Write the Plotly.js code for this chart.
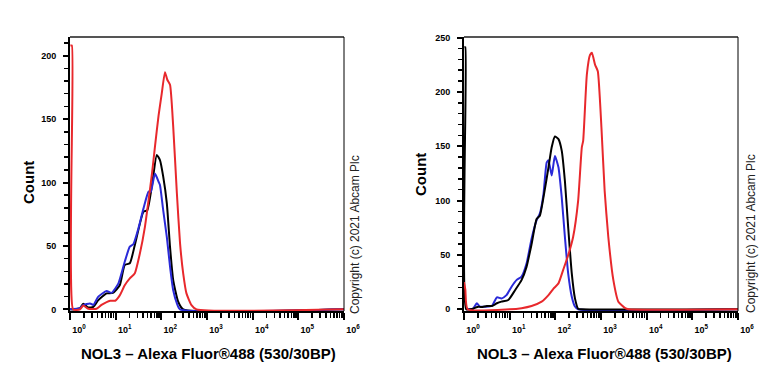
<!DOCTYPE html>
<html>
<head>
<meta charset="utf-8">
<script src="https://cdn.plot.ly/plotly-3.0.1.min.js"></script>
<style>html,body{margin:0;padding:0;background:#fff;}#chart{width:768px;height:384px;}</style>
</head>
<body>
<div id="chart"></div>
<script>
// ---- Data (fluorescence intensity, count) ----
// Left panel
var leftBlackX = [1.0, 1.26, 1.66, 1.95, 2.51, 3.24, 4.17, 6.31, 8.71, 12.3, 15.8, 20.4, 26.3, 40.7, 49.0, 63.1, 79.4, 93.3, 110, 132, 155, 182, 234, 302, 1e6];
var leftBlackY = [0, 0, 1, 4.4, 1.5, 2, 7.3, 12.6, 13, 19, 35, 36.3, 50.7, 77, 78, 99, 121.7, 117.7, 104.6, 83.6, 49, 23, 6, 0, 0];

var leftBlueX = [1.0, 1.66, 1.95, 2.75, 3.24, 4.17, 6.31, 8.13, 11.5, 15.8, 20.4, 24.5, 31.6, 40.7, 52.5, 58.9, 72.4, 87.1, 93.3, 110, 132, 155, 182, 219, 257, 1e6];
var leftBlueY = [0, 1, 3.4, 4.7, 3.5, 10, 14.4, 13, 20.5, 37.5, 49.4, 51.5, 64, 79.6, 92.8, 92.8, 107, 100.6, 98, 78, 57, 33.6, 15, 4.7, 0, 0];

var leftRedX = [1.02, 1.10, 1.17, 1.66, 1.95, 2.51, 3.80, 4.90, 7.59, 9.77, 12.3, 15.8, 20.4, 26.3, 33.9, 43.7, 52.5, 63.1, 72.4, 87.1, 102, 120, 135, 155, 182, 219, 257, 302, 355, 457, 589, 1e6];
var leftRedY = [208, 208, 0, 0, 3, 0.5, 0.5, 3.5, 6.8, 6.8, 11, 19, 24.4, 28.5, 44, 65, 86, 108.5, 128, 153, 170, 187, 181, 177, 144, 91.5, 52, 28, 12.6, 3.4, 0, 0];

// Right panel
var rightBlackX = [1.02, 1.07, 1.12, 1.58, 2.04, 2.40, 3.16, 4.07, 5.25, 6.61, 9.33, 13.2, 18.2, 23.4, 30.2, 38.9, 45.7, 55.0, 70.8, 83.2, 97.7, 117, 138, 162, 191, 229, 269, 316, 380, 1e6];
var rightBlackY = [241, 241, 0, 0.5, 2.4, 2, 3, 3, 5.5, 7, 8.5, 17.7, 26.8, 39, 60, 83, 86, 103, 130.6, 149, 159, 156.6, 146, 118, 75.6, 33, 10, 0.5, 0, 0];

var rightBlueX = [1.12, 1.58, 1.91, 2.24, 2.88, 4.07, 5.25, 6.61, 8.51, 11.0, 14.1, 18.2, 23.4, 30.2, 38.9, 45.7, 55.0, 64.6, 70.8, 83.2, 97.7, 117, 138, 162, 191, 229, 269, 316, 1e6];
var rightBlueY = [0, 0.5, 5.5, 2.4, 2.4, 3, 11, 10, 13, 20.7, 26.8, 30, 42, 65, 82, 88, 106, 135, 137, 123, 141, 130.6, 103, 66.5, 33, 11.5, 2.5, 0, 0];

var rightRedX = [1.0, 1.07, 1.2, 10, 18.2, 30.2, 50.1, 70.8, 91.2, 117, 148, 191, 245, 316, 380, 407, 490, 575, 631, 741, 851, 1023, 1202, 1445, 1862, 2399, 3388, 3981, 1e6];
var rightRedY = [25, 18, 0, 0, 1, 3, 7, 13, 19, 23.8, 36, 49.7, 66.5, 100, 149, 155, 216, 234, 236, 225, 219, 167, 109, 66.5, 27, 7, 1, 0, 0];

// Tick labels
var majorTickVals = [1, 10, 100, 1000, 10000, 100000, 1000000];
var majorTickText = ['10<sup>0</sup>', '10<sup>1</sup>', '10<sup>2</sup>', '10<sup>3</sup>', '10<sup>4</sup>', '10<sup>5</sup>', '10<sup>6</sup>'];
var xTitle = '<b>NOL3 \u2013 Alexa Fluor\u00AE488 (530/30BP)</b>';
var yTitle = '<b>Count</b>';
var copyright = 'Copyright (c) 2021 Abcam Plc';

// minor tick positions (2..9 per decade)
var minorTickVals = [];
for (var d = 0; d < 6; d++) {
  for (var m = 2; m <= 9; m++) minorTickVals.push(m * Math.pow(10, d));
}

var FONT = 'Liberation Sans, Arial, Helvetica, sans-serif';
var RED = '#e8282c', BLUE = '#2a2ad8', BLACK = '#000000';

function tr(x, y, color, xa, ya) {
  return {x: x, y: y, type: 'scatter', mode: 'lines', xaxis: xa, yaxis: ya,
    line: {color: color, width: 2, shape: 'spline', smoothing: 0.5}, hoverinfo: 'skip'};
}

var data = [
  tr(leftBlackX, leftBlackY, BLACK, 'x', 'y'),
  tr(leftBlueX, leftBlueY, BLUE, 'x', 'y'),
  tr(leftRedX, leftRedY, RED, 'x', 'y'),
  tr(rightBlueX, rightBlueY, BLUE, 'x2', 'y2'),
  tr(rightBlackX, rightBlackY, BLACK, 'x2', 'y2'),
  tr(rightRedX, rightRedY, RED, 'x2', 'y2')
];

function xaxis(domain, anchor) {
  return {
    domain: domain, anchor: anchor, type: 'log', range: [0, 6],
    tickmode: 'array', tickvals: majorTickVals, ticktext: majorTickText,
    ticks: 'outside', ticklen: 7, tickwidth: 2, tickcolor: '#000',
    showline: true, linecolor: '#000', linewidth: 2,
    showgrid: false, zeroline: false,
    tickfont: {family: FONT, size: 9, color: '#000', weight: 'bold'},
    ticklabelshift: 9, ticklabelstandoff: 2,
    minor: {tickmode: 'array', tickvals: minorTickVals, ticks: 'outside', ticklen: 5, tickwidth: 1.5, tickcolor: '#000', showgrid: false},
    fixedrange: true
  };
}
function yaxis(domain, anchor, range) {
  return {
    domain: domain, anchor: anchor, range: range,
    tickmode: 'linear', tick0: 0, dtick: 50,
    ticks: 'outside', ticklen: 5, tickwidth: 2, tickcolor: '#000',
    showline: true, linecolor: '#000', linewidth: 2,
    showgrid: false, zeroline: false,
    tickfont: {family: FONT, size: 9, color: '#000', weight: 'bold'},
    ticklabelstandoff: 5,
    minor: {dtick: 10, tick0: 0, ticks: 'outside', ticklen: 4, tickwidth: 1.5, tickcolor: '#000', showgrid: false},
    fixedrange: true
  };
}

var yDom = [(384 - 311) / 384, (384 - 37) / 384];
var x1Dom = [70 / 768, 344 / 768];
var x2Dom = [464 / 768, 738 / 768];

function frame(xr, yr) {
  return [
    {type: 'line', xref: xr + ' domain', yref: yr + ' domain', x0: 0, x1: 1, y0: 1, y1: 1, line: {color: '#555', width: 2}},
    {type: 'line', xref: xr + ' domain', yref: yr + ' domain', x0: 1, x1: 1, y0: 0, y1: 1, line: {color: '#000', width: 1}}
  ];
}

function ann(text, xpx, ypx, size, angle, color) {
  return {text: text, xref: 'paper', yref: 'paper', x: xpx / 768, y: (384 - ypx) / 384,
    xanchor: 'center', yanchor: 'middle', showarrow: false, textangle: angle,
    font: {family: FONT, size: size, color: color || '#000'}};
}

var layout = {
  width: 768, height: 384,
  margin: {l: 0, r: 0, t: 0, b: 0},
  paper_bgcolor: '#fff', plot_bgcolor: '#fff',
  showlegend: false,
  xaxis: xaxis(x1Dom, 'y'),
  yaxis: yaxis(yDom, 'x', [-1.3, 214.7]),
  xaxis2: xaxis(x2Dom, 'y2'),
  yaxis2: yaxis(yDom, 'x2', [-1.6, 250.5]),
  shapes: frame('x', 'y').concat(frame('x2', 'y2')),
  annotations: [
    ann(yTitle, 28, 183, 15, -90),
    ann(yTitle, 420, 175, 15, -90),
    ann(xTitle, 208, 353, 15, 0),
    ann(xTitle, 604, 353, 15, 0),
    ann(copyright, 355, 235, 12, -90, '#222'),
    ann(copyright, 751, 234, 12, -90, '#222')
  ]
};

Plotly.newPlot('chart', data, layout, {staticPlot: true, displayModeBar: false});
</script>
</body>
</html>
